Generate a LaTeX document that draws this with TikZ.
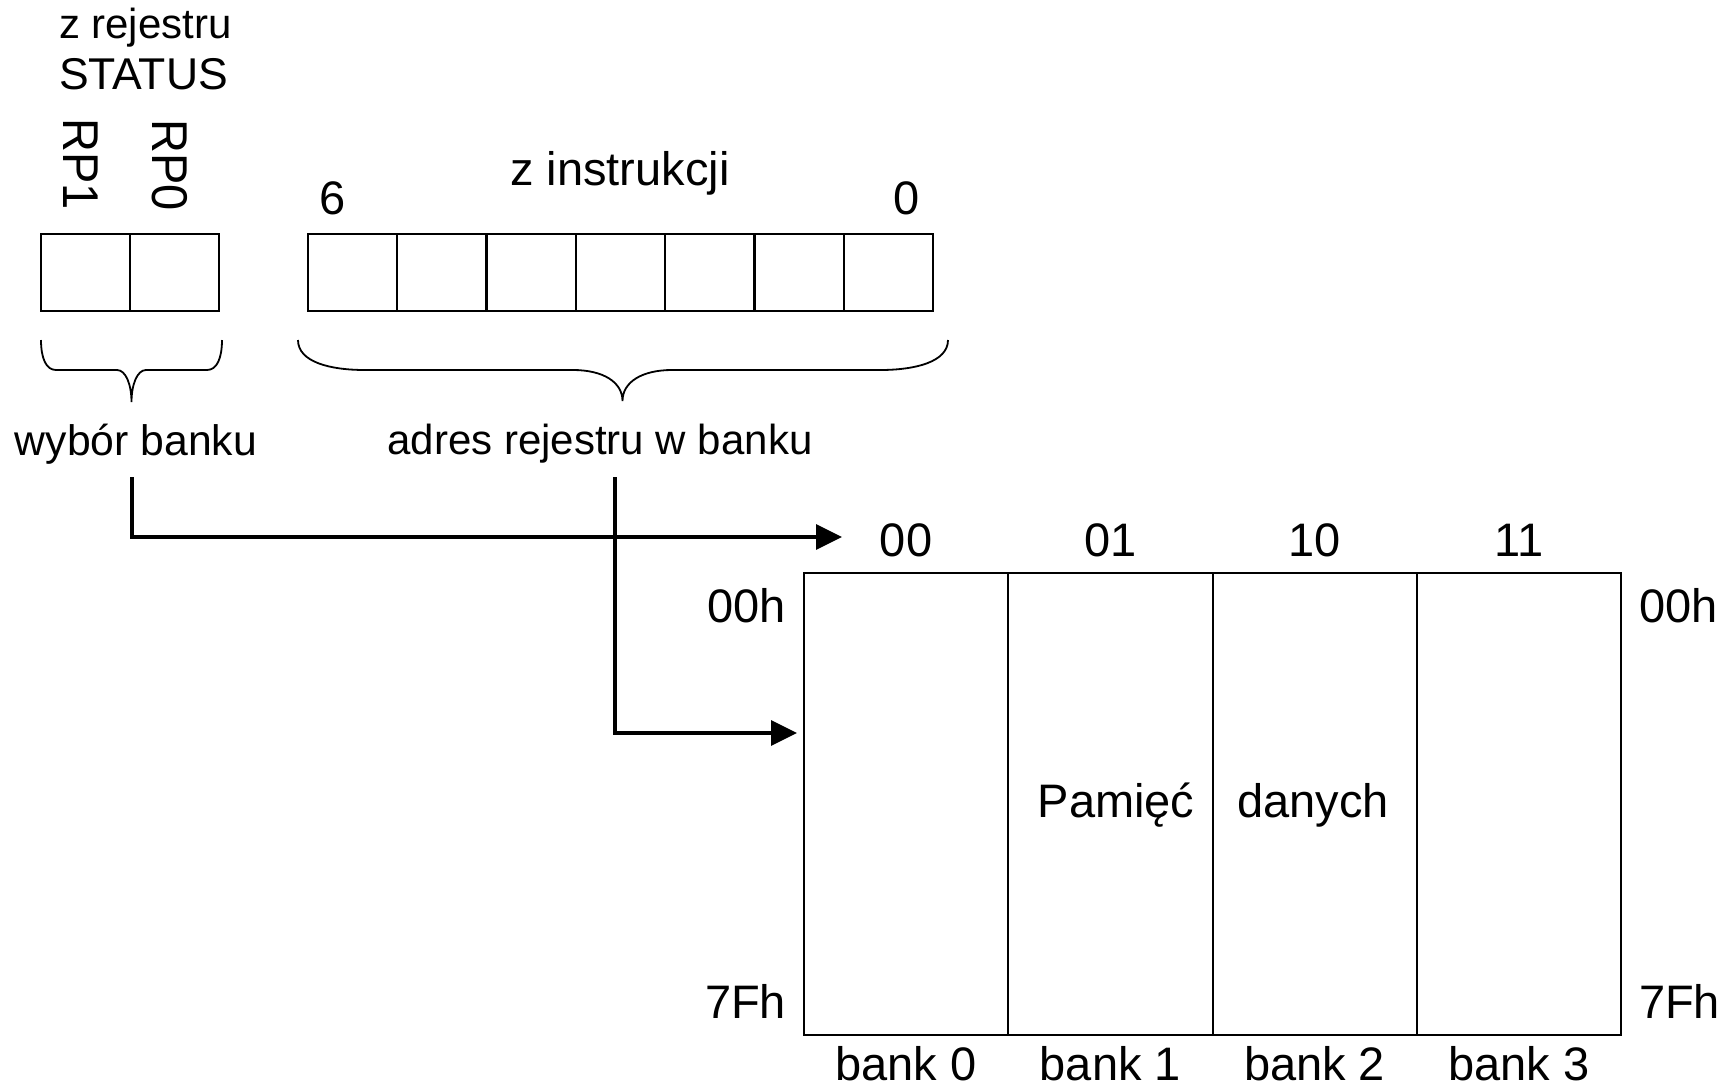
\documentclass[tikz,border=0pt]{standalone}
\usepackage{fontspec}
\setmainfont{Liberation Sans}
\usetikzlibrary{arrows.meta}
\begin{document}
\begin{tikzpicture}[x=1pt,y=-1pt,
  fA/.style={font=\fontsize{42}{50}\selectfont},
  fC/.style={font=\fontsize{42.7}{51}\selectfont},
  fS/.style={font=\fontsize{44.5}{53}\selectfont},
  fB/.style={font=\fontsize{47}{56}\selectfont},
  lbl/.style={inner sep=0pt, outer sep=0pt, anchor=base},
  cell/.style={draw, line width=2.3pt, minimum width=89.3pt, minimum height=77pt, inner sep=0pt, outer sep=0pt},
  bankbox/.style={draw, line width=2pt, minimum width=204.25pt, minimum height=462pt, inner sep=0pt, outer sep=0pt},
  bracepath/.style={line width=1.8pt},
  arr/.style={line width=3.5pt, -{Triangle[length=26pt,width=25pt]}}]
\useasboundingbox (0,0) rectangle (1727,1088);
\fill[white] (0,0) rectangle (1727,1088);

% STATUS labels
\node[lbl, fA, anchor=base west] (zrej) at (59,38) {z rejestru};
\node[lbl, fS, anchor=base west] (status) at (59,89) {STATUS};
\node[fB, inner sep=0pt, rotate=-90] (rp1) at (80.5,164) {\scalebox{1}[1.07]{RP1}};
\node[fB, inner sep=0pt, rotate=-90] (rp0) at (169.5,165) {\scalebox{1}[1.07]{RP0}};

% STATUS cells
\node[cell] (s1) at (85.5,272.5) {};
\node[cell] (s0) at (174.5,272.5) {};

% instruction cells
\foreach \k/\b in {0/6,1/5,2/4,3/3,4/2,5/1,6/0}{
  \node[cell] (i\b) at ({352.65+\k*89.29},272.5) {};
}
\node[lbl, fB] (zinstr) at (620,185) {z instrukcji};
\node[lbl, fB] (b6) at (333,214) {6};
\node[lbl, fB] (b0) at (907,214) {0};

% braces
\draw[bracepath] (41,340) .. controls (41,358) and (46,370) .. (56,370) -- (117,370)
  .. controls (126,370) and (131.5,385) .. (131.5,402)
  .. controls (131.5,385) and (137,370) .. (146,370) -- (207,370)
  .. controls (217,370) and (222,358) .. (222,340);
\draw[bracepath] (298,340) .. controls (298,362) and (330,370) .. (365,370) -- (573,370)
  .. controls (603,370) and (622.5,382) .. (622.5,401)
  .. controls (622.5,382) and (642,370) .. (672,370) -- (880,370)
  .. controls (915,370) and (948,362) .. (948,340);

\node[lbl, fC] (wybor) at (136,455) {wybór banku};
\node[lbl, fA] (adres) at (600,454) {adres rejestru w banku};

% memory banks
\foreach \k in {0,1,2,3}{
  \node[bankbox] (bk\k) at ({906.125+\k*204.25},804) {};
}
\node[lbl, fB] (c00) at (bk0.north |- 0,556) {00};
\node[lbl, fB] (c01) at (bk1.north |- 0,556) {01};
\node[lbl, fB] (c10) at (bk2.north |- 0,556) {10};
\node[lbl, fB] (c11) at (bk3.north |- 0,556) {11};

\node[lbl, fB, anchor=base east] (l00) at (786,622) {00h};
\node[lbl, fB, anchor=base west] (r00) at (1639,622) {00h};
\node[lbl, fB, anchor=base east] (l7f) at (786,1018) {7Fh};
\node[lbl, fB, anchor=base west] (r7f) at (1639,1018) {7Fh};

\node[lbl, fB] (n0) at (bk0.south |- 0,1080) {bank 0};
\node[lbl, fB] (n1) at (bk1.south |- 0,1080) {bank 1};
\node[lbl, fB] (n2) at (bk2.south |- 0,1080) {bank 2};
\node[lbl, fB] (n3) at (bk3.south |- 0,1080) {bank 3};

\node[lbl, fB] (pam) at (1116,817) {Pamięć};
\node[lbl, fB] (dan) at (1313,817) {danych};

% connectors
\coordinate (selTop) at (132,477);
\coordinate (selEnd) at (842,537);
\coordinate (adrTop) at (615,477);
\coordinate (adrEnd) at (797,733);
\draw[arr] (selTop) |- (selEnd);
\draw[arr] (adrTop) |- (adrEnd);
\end{tikzpicture}
\end{document}
